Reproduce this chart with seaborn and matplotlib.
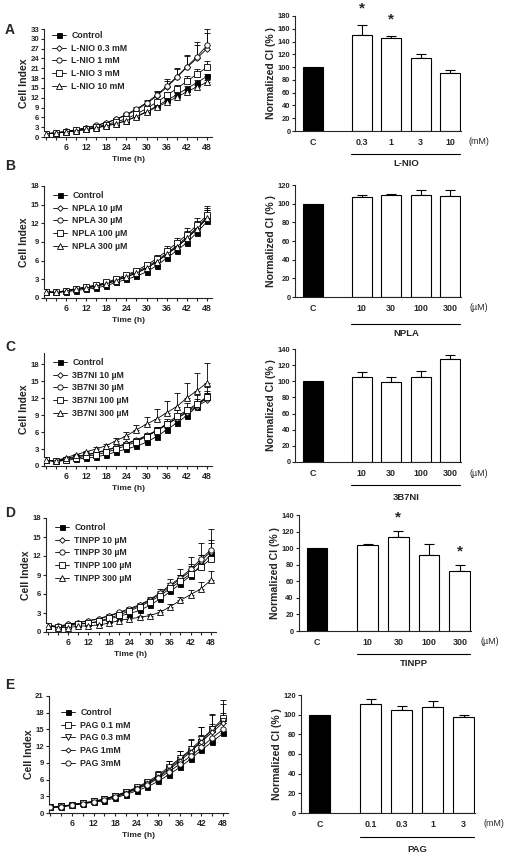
import numpy as np
import matplotlib
matplotlib.use('Agg')
import matplotlib.pyplot as plt
import matplotlib.transforms as mtransforms
from matplotlib.ticker import MultipleLocator
import seaborn as sns

sns.set_style('ticks')
plt.rcParams['font.family'] = ['Liberation Sans', 'DejaVu Sans']
plt.rcParams['font.weight'] = 'bold'
plt.rcParams['axes.linewidth'] = 0.8

W, H = 512, 859

# 时间点 (h)
hours = [0, 3, 6, 9, 12, 15, 18, 21, 24, 27, 30, 33, 36, 39, 42, 45, 48]

# ---- A: L-NIO ----
a_labels = ['Control', 'L-NIO 0.3 mM', 'L-NIO 1 mM', 'L-NIO 3 mM', 'L-NIO 10 mM']
a_ctrl = [1.0, 1.2, 1.5, 1.9, 2.3, 2.8, 3.4, 4.1, 5.0, 6.3, 7.8, 9.4, 11.2, 12.9, 14.8, 16.6, 18.5]
a_03 = [1.0, 1.3, 1.7, 2.2, 2.8, 3.5, 4.3, 5.4, 6.7, 8.3, 10.2, 12.5, 15.2, 18.2, 21.3, 24.0, 27.0]
a_1 = [1.0, 1.3, 1.7, 2.2, 2.8, 3.6, 4.4, 5.5, 6.9, 8.6, 10.5, 12.8, 15.5, 18.4, 21.5, 24.5, 28.0]
a_3 = [1.0, 1.2, 1.6, 2.0, 2.5, 3.1, 3.8, 4.6, 5.6, 7.0, 8.7, 10.6, 12.7, 14.8, 17.0, 19.2, 21.3]
a_10 = [1.0, 1.2, 1.5, 1.9, 2.3, 2.8, 3.4, 4.1, 5.0, 6.2, 7.6, 9.1, 10.6, 12.2, 13.8, 15.3, 16.7]
a_ctrl_err = [0, 0, 0.1, 0.1, 0.1, 0.1, 0.2, 0.2, 0.2, 0.3, 0.3, 0.4, 0.5, 0.6, 0.7, 0.8, 0.9]
a_03_err = [0, 0.1, 0.1, 0.1, 0.2, 0.2, 0.3, 0.4, 0.5, 0.7, 0.9, 1.3, 2.0, 2.6, 3.3, 4.0, 4.8]
a_1_err = [0, 0.1, 0.1, 0.1, 0.2, 0.2, 0.3, 0.4, 0.5, 0.7, 0.9, 1.4, 2.3, 2.8, 3.7, 4.4, 5.0]
a_3_err = [0, 0, 0.1, 0.1, 0.1, 0.2, 0.2, 0.3, 0.3, 0.4, 0.6, 0.8, 1.0, 1.2, 1.5, 1.6, 1.8]
a_10_err = [0, 0, 0.1, 0.1, 0.1, 0.1, 0.1, 0.2, 0.2, 0.3, 0.3, 0.4, 0.5, 0.5, 0.6, 0.7, 0.8]
a_bar_ticks = ['C', '0.3', '1', '3', '10']
a_bar = [100, 151, 146, 115, 91]
a_bar_err = [0, 15, 3, 6, 4]
a_stars = [1, 2]

# ---- B: NPLA ----
b_labels = ['Control', 'NPLA 10 µM', 'NPLA 30 µM', 'NPLA 100 µM', 'NPLA 300 µM']
b_ctrl = [1.0, 0.9, 1.0, 1.2, 1.4, 1.6, 2.0, 2.5, 3.0, 3.5, 4.2, 5.2, 6.4, 7.6, 8.9, 10.5, 12.3]
b_10 = [1.0, 0.9, 1.1, 1.4, 1.6, 1.9, 2.3, 2.8, 3.4, 4.0, 4.8, 5.8, 7.0, 8.2, 9.5, 11.1, 12.8]
b_30 = [1.0, 0.9, 1.2, 1.5, 1.7, 2.0, 2.4, 3.0, 3.6, 4.2, 5.0, 6.0, 7.2, 8.4, 9.8, 11.3, 13.0]
b_100 = [1.0, 0.9, 1.2, 1.5, 1.8, 2.1, 2.5, 3.1, 3.7, 4.4, 5.3, 6.3, 7.6, 8.8, 10.2, 11.7, 13.3]
b_300 = [1.0, 0.9, 1.1, 1.4, 1.6, 1.9, 2.3, 2.8, 3.4, 4.0, 4.8, 5.8, 7.0, 8.2, 9.6, 11.1, 12.8]
b_ctrl_err = [0, 0, 0, 0.1, 0.1, 0.1, 0.1, 0.1, 0.1, 0.2, 0.2, 0.2, 0.3, 0.3, 0.4, 0.4, 0.5]
b_10_err = [0, 0, 0.1, 0.1, 0.1, 0.1, 0.1, 0.2, 0.2, 0.2, 0.3, 0.4, 0.5, 0.6, 0.8, 1.0, 1.3]
b_30_err = [0, 0, 0.1, 0.1, 0.1, 0.1, 0.1, 0.2, 0.2, 0.2, 0.3, 0.4, 0.5, 0.7, 0.9, 1.0, 1.4]
b_100_err = [0, 0, 0.1, 0.1, 0.1, 0.1, 0.2, 0.2, 0.2, 0.3, 0.3, 0.6, 0.7, 0.9, 1.0, 1.1, 1.5]
b_300_err = [0, 0, 0.1, 0.1, 0.1, 0.1, 0.1, 0.2, 0.2, 0.2, 0.3, 0.4, 0.5, 0.6, 0.8, 1.0, 1.3]
b_bar_ticks = ['C', '10', '30', '100', '300']
b_bar = [100, 107, 109, 109, 108]
b_bar_err = [0, 2, 1, 6, 7]
b_stars = []

# ---- C: 3B7NI ----
c_labels = ['Control', '3B7NI 10 µM', '3B7NI 30 µM', '3B7NI 100 µM', '3B7NI 300 µM']
c_ctrl = [1.0, 0.8, 1.0, 1.2, 1.4, 1.6, 2.0, 2.5, 3.0, 3.5, 4.2, 5.2, 6.4, 7.6, 8.9, 10.5, 12.3]
c_10 = [1.0, 0.9, 1.3, 1.7, 2.0, 2.4, 2.8, 3.4, 4.0, 4.6, 5.4, 6.3, 7.3, 8.4, 9.4, 10.5, 11.6]
c_30 = [1.0, 0.9, 1.2, 1.6, 1.9, 2.3, 2.7, 3.3, 3.9, 4.5, 5.3, 6.2, 7.3, 8.5, 9.6, 10.8, 12.0]
c_100 = [1.0, 0.8, 1.1, 1.4, 1.7, 2.0, 2.4, 3.0, 3.6, 4.3, 5.2, 6.2, 7.5, 8.8, 9.8, 11.0, 12.2]
c_300 = [1.0, 0.9, 1.5, 2.0, 2.5, 3.0, 3.6, 4.5, 5.3, 6.4, 7.4, 8.3, 9.4, 10.5, 12.0, 13.3, 14.7]
c_ctrl_err = [0, 0, 0, 0.1, 0.1, 0.1, 0.1, 0.1, 0.1, 0.2, 0.2, 0.2, 0.3, 0.3, 0.4, 0.4, 0.5]
c_10_err = [0, 0, 0.1, 0.1, 0.1, 0.2, 0.2, 0.2, 0.3, 0.3, 0.4, 0.5, 0.6, 0.7, 0.9, 1.0, 1.2]
c_30_err = [0, 0, 0.1, 0.1, 0.1, 0.2, 0.2, 0.2, 0.3, 0.3, 0.4, 0.5, 0.6, 0.7, 0.9, 1.0, 1.2]
c_100_err = [0, 0, 0.1, 0.1, 0.1, 0.1, 0.2, 0.2, 0.2, 0.3, 0.4, 0.6, 0.8, 1.0, 1.3, 1.5, 1.7]
c_300_err = [0, 0.1, 0.1, 0.2, 0.2, 0.3, 0.3, 0.4, 0.7, 0.9, 1.2, 1.7, 2.0, 2.4, 2.7, 3.1, 3.5]
c_bar_ticks = ['C', '10', '30', '100', '300']
c_bar = [100, 105, 99, 105, 127]
c_bar_err = [0, 7, 6, 8, 5]
c_stars = []

# ---- D: TINPP ----
d_labels = ['Control', 'TINPP 10 µM', 'TINPP 30 µM', 'TINPP 100 µM', 'TINPP 300 µM']
d_ctrl = [1.0, 0.8, 1.1, 1.3, 1.4, 1.6, 2.0, 2.5, 2.9, 3.4, 4.2, 5.2, 6.4, 7.6, 8.9, 10.5, 12.3]
d_10 = [1.0, 0.9, 1.2, 1.5, 1.7, 2.1, 2.5, 3.0, 3.5, 4.2, 5.0, 6.0, 7.2, 8.4, 9.6, 11.2, 12.7]
d_30 = [1.0, 0.9, 1.2, 1.5, 1.8, 2.1, 2.6, 3.1, 3.7, 4.3, 5.1, 6.2, 7.4, 8.6, 9.9, 11.5, 13.0]
d_100 = [1.0, 0.8, 1.0, 1.2, 1.4, 1.7, 2.2, 2.7, 3.3, 4.0, 4.8, 5.7, 6.9, 8.0, 9.2, 10.2, 11.6]
d_300 = [1.0, 0.7, 0.7, 0.9, 1.0, 1.1, 1.4, 1.8, 2.1, 2.3, 2.6, 3.1, 4.0, 5.0, 5.9, 6.8, 8.2]
d_ctrl_err = [0, 0, 0, 0.1, 0.1, 0.1, 0.1, 0.1, 0.1, 0.2, 0.2, 0.2, 0.3, 0.3, 0.4, 0.4, 0.5]
d_10_err = [0, 0, 0.1, 0.1, 0.1, 0.1, 0.1, 0.2, 0.2, 0.2, 0.3, 0.4, 0.5, 0.6, 0.8, 1.0, 1.3]
d_30_err = [0, 0, 0.1, 0.1, 0.1, 0.1, 0.2, 0.2, 0.2, 0.3, 0.4, 0.6, 0.9, 1.4, 2.0, 2.6, 3.2]
d_100_err = [0, 0, 0.1, 0.1, 0.1, 0.1, 0.2, 0.2, 0.2, 0.3, 0.4, 0.6, 0.8, 1.0, 1.5, 2.0, 2.9]
d_300_err = [0, 0, 0.1, 0.1, 0.1, 0.1, 0.1, 0.1, 0.2, 0.2, 0.2, 0.3, 0.4, 0.6, 0.7, 1.1, 1.4]
d_bar_ticks = ['C', '10', '30', '100', '300']
d_bar = [100, 104, 114, 92, 72]
d_bar_err = [0, 1, 7, 13, 8]
d_stars = [2, 4]

# ---- E: PAG ----
e_labels = ['Control', 'PAG 0.1 mM', 'PAG 0.3 mM', 'PAG 1mM', 'PAG 3mM']
e_ctrl = [1.0, 1.1, 1.4, 1.7, 1.9, 2.2, 2.7, 3.3, 4.0, 4.7, 5.7, 6.9, 8.2, 9.7, 11.3, 12.8, 14.3]
e_01 = [1.0, 1.2, 1.5, 1.8, 2.1, 2.5, 3.1, 3.7, 4.5, 5.4, 6.6, 8.0, 9.6, 11.2, 12.8, 15.0, 17.0]
e_03 = [1.0, 1.2, 1.5, 1.8, 2.1, 2.5, 3.1, 3.8, 4.6, 5.6, 6.8, 8.3, 9.8, 11.4, 13.2, 15.0, 16.5]
e_1 = [1.0, 1.2, 1.4, 1.7, 2.0, 2.4, 2.9, 3.6, 4.4, 5.3, 6.4, 7.8, 9.3, 11.0, 12.8, 14.5, 16.2]
e_3 = [1.0, 1.1, 1.4, 1.7, 2.0, 2.4, 2.9, 3.5, 4.3, 5.1, 6.2, 7.4, 8.8, 10.2, 11.8, 13.5, 15.0]
e_ctrl_err = [0, 0, 0, 0.1, 0.1, 0.1, 0.1, 0.1, 0.2, 0.2, 0.2, 0.3, 0.3, 0.4, 0.4, 0.5, 0.5]
e_01_err = [0, 0, 0.1, 0.1, 0.1, 0.1, 0.2, 0.2, 0.2, 0.3, 0.9, 1.4, 1.6, 2.0, 2.7, 2.8, 3.3]
e_03_err = [0, 0, 0.1, 0.1, 0.1, 0.1, 0.2, 0.2, 0.2, 0.3, 0.6, 1.0, 1.3, 1.7, 2.2, 2.6, 3.1]
e_1_err = [0, 0, 0.1, 0.1, 0.1, 0.1, 0.1, 0.2, 0.2, 0.3, 0.4, 0.6, 0.8, 1.0, 1.2, 1.4, 1.7]
e_3_err = [0, 0, 0.1, 0.1, 0.1, 0.1, 0.1, 0.2, 0.2, 0.2, 0.3, 0.4, 0.6, 0.7, 0.9, 1.0, 1.2]
e_bar_ticks = ['C', '0.1', '0.3', '1', '3']
e_bar = [100, 111, 105, 108, 98]
e_bar_err = [0, 5, 4, 6, 2]
e_stars = []

# 标记样式: (marker, facecolor, size)
std_markers = [('s', 'black', 3.6), ('D', 'white', 2.9), ('o', 'white', 3.8), ('s', 'white', 3.7), ('^', 'white', 4.0)]
pag_markers = [('s', 'black', 3.6), ('s', 'white', 3.7), ('v', 'white', 4.0), ('D', 'white', 2.6), ('o', 'white', 3.8)]


def px_axes(fig, x0, y0, x1, y1):
    # 像素坐标 -> figure 坐标
    return fig.add_axes([x0 / W, 1 - y1 / H, (x1 - x0) / W, (y1 - y0) / H])


def line_panel(fig, box, labels, series, errs, markers, ymax, ytop, leg_xy):
    ax = px_axes(fig, *box)
    for lab, vals, err, (mk, fc, ms) in zip(labels, series, errs, markers):
        ax.errorbar(hours, vals, yerr=[np.zeros(len(err)), err], fmt='none',
                    ecolor='black', elinewidth=0.6, capsize=2.5, capthick=0.6, zorder=1)
        sns.lineplot(x=hours, y=vals, ax=ax, color='black', marker=mk, markersize=ms,
                     markerfacecolor=fc, markeredgecolor='black', markeredgewidth=0.6,
                     linewidth=0.6, label=lab, errorbar=None, zorder=3)
    ax.set_xlim(-0.5, 49.5)
    ax.set_ylim(0, ytop)
    ax.set_xticks([6, 12, 18, 24, 30, 36, 42, 48])
    ax.xaxis.set_minor_locator(MultipleLocator(3))
    ax.set_yticks(np.arange(0, ymax + 1, 3))
    ax.tick_params(axis='x', which='both', length=2.5, width=0.8, labelsize=6.3, pad=2)
    ax.tick_params(axis='y', length=2.5, width=0.8, labelsize=5.6, pad=1)
    ax.set_xlabel('Time (h)', fontsize=6, fontweight='bold', labelpad=3)
    ax.set_ylabel('Cell Index', fontsize=7.6, fontweight='bold', labelpad=1)
    sns.despine(ax=ax)
    ax.legend(loc='upper left', bbox_to_anchor=(leg_xy[0] / W, 1 - leg_xy[1] / H),
              bbox_transform=fig.transFigure, frameon=False, borderpad=0, borderaxespad=0,
              handlelength=1.6, handletextpad=0.6, labelspacing=0.42,
              prop={'size': 6.3, 'weight': 'bold'})
    return ax


def bar_panel(fig, box, ticks, vals, errs, ystep, ytop, unit, drug, stars, offs):
    ax = px_axes(fig, *box)
    pos = [0] + [1.65 + i for i in range(len(vals) - 1)]
    sns.barplot(x=pos, y=vals, native_scale=True, width=0.68, color='white', saturation=1,
                edgecolor='black', linewidth=0.8, errorbar=None, ax=ax)
    ax.patches[0].set_facecolor('black')
    ax.errorbar(pos[1:], vals[1:], yerr=[np.zeros(len(vals) - 1), errs[1:]], fmt='none',
                ecolor='black', elinewidth=0.8, capsize=3.6, capthick=0.8, zorder=0)
    ax.set_xlim(-0.6, 5.0)
    ax.set_ylim(0, ytop)
    ax.yaxis.set_major_locator(MultipleLocator(ystep))
    ax.set_xticks(pos, ticks)
    ax.tick_params(axis='x', length=0, labelsize=6.4, pad=5)
    ax.tick_params(axis='y', length=2.5, width=0.8, labelsize=5.4, pad=1)
    ax.set_ylabel('Normalized CI (% )', fontsize=7.6, fontweight='bold', labelpad=1)
    ax.set_xlabel('')
    sns.despine(ax=ax)
    for i in stars:
        ax.annotate('*', xy=(pos[i], vals[i] + errs[i]), xytext=(0, offs[2]),
                    textcoords='offset pixels', ha='center', va='center',
                    fontsize=11, fontweight='bold')
    tr_unit = mtransforms.offset_copy(ax.get_xaxis_transform(), fig, y=-11, units='dots')
    ax.text(5.62, 0, unit, transform=tr_unit, ha='center', va='center',
            fontsize=6.4, fontweight='normal')
    tr_line = mtransforms.offset_copy(ax.get_xaxis_transform(), fig, y=-offs[0], units='dots')
    ax.plot([1.3, 4.97], [0, 0], color='black', linewidth=0.8, transform=tr_line, clip_on=False)
    tr_name = mtransforms.offset_copy(ax.get_xaxis_transform(), fig, y=-offs[1], units='dots')
    ax.text(3.15, 0, drug, transform=tr_name, ha='center', va='center',
            fontsize=6.8, fontweight='bold')
    return ax


fig = plt.figure(figsize=(W / 100, H / 100), dpi=100)

line_panel(fig, (44.2, 29, 212.0, 137), a_labels, [a_ctrl, a_03, a_1, a_3, a_10],
           [a_ctrl_err, a_03_err, a_1_err, a_3_err, a_10_err], std_markers, 33, 33, (52, 31))
bar_panel(fig, (295.3, 16, 460.5, 131), a_bar_ticks, a_bar, a_bar_err, 20, 180,
          '(mM)', 'L-NIO', a_stars, (23, 33, 16))

line_panel(fig, (44.2, 186, 212.0, 298), b_labels, [b_ctrl, b_10, b_30, b_100, b_300],
           [b_ctrl_err, b_10_err, b_30_err, b_100_err, b_300_err], std_markers, 18, 18, (53, 191))
bar_panel(fig, (295.3, 185, 460.5, 297), b_bar_ticks, b_bar, b_bar_err, 20, 120,
          '(µM)', 'NPLA', b_stars, (27, 36, 16))

line_panel(fig, (44.2, 352.7, 212.0, 466), c_labels, [c_ctrl, c_10, c_30, c_100, c_300],
           [c_ctrl_err, c_10_err, c_30_err, c_100_err, c_300_err], std_markers, 18, 20, (53, 358))
bar_panel(fig, (295.3, 349, 460.5, 462), c_bar_ticks, c_bar, c_bar_err, 20, 140,
          '(µM)', '3B7NI', c_stars, (23, 36, 16))

line_panel(fig, (45.9, 518, 216.1, 632), d_labels, [d_ctrl, d_10, d_30, d_100, d_300],
           [d_ctrl_err, d_10_err, d_30_err, d_100_err, d_300_err], std_markers, 18, 18, (55, 523))
bar_panel(fig, (298.6, 515, 470.5, 631), d_bar_ticks, d_bar, d_bar_err, 20, 140,
          '(µM)', 'TINPP', d_stars, (23, 33, 13))

line_panel(fig, (48.6, 696, 228.4, 813), e_labels, [e_ctrl, e_01, e_03, e_1, e_3],
           [e_ctrl_err, e_01_err, e_03_err, e_1_err, e_3_err], pag_markers, 21, 21, (61, 708))
bar_panel(fig, (300.9, 695, 474.5, 813), e_bar_ticks, e_bar, e_bar_err, 20, 120,
          '(mM)', 'PAG', e_stars, (24, 37, 16))

for letter, yy in zip(['A', 'B', 'C', 'D', 'E'], [30, 166, 347, 513, 685]):
    fig.text(10 / W, 1 - yy / H, letter, fontsize=10, fontweight='bold', ha='center', va='center')

fig.savefig('out.png', dpi=100, facecolor='white')
